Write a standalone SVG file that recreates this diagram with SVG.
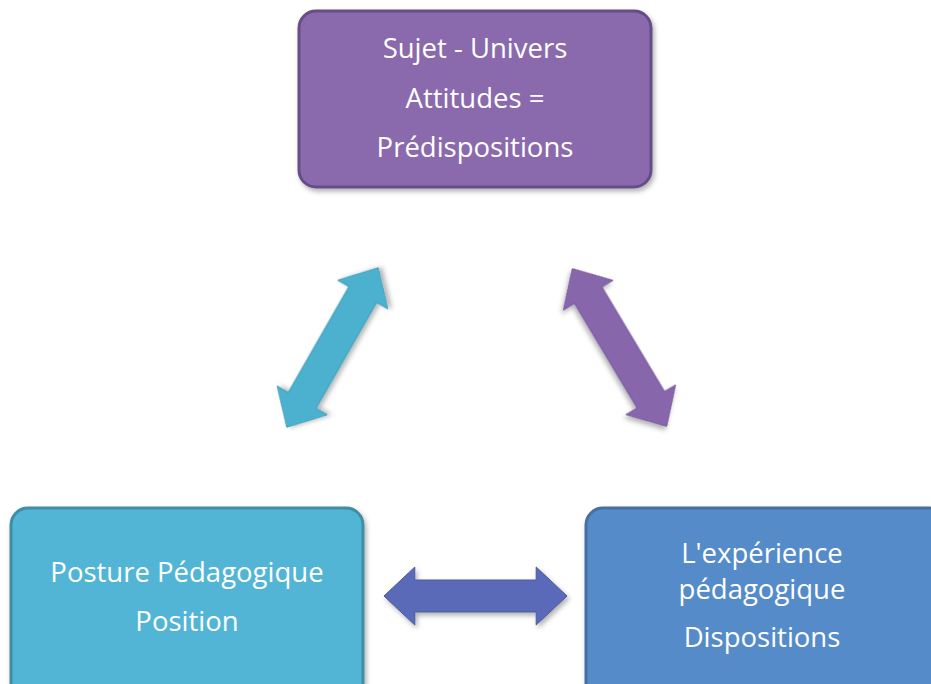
<svg xmlns="http://www.w3.org/2000/svg" width="931" height="684" viewBox="0 0 931 684">
<defs>
<filter id="sh" x="-20%" y="-20%" width="140%" height="140%">
<feDropShadow dx="2" dy="3" stdDeviation="2.5" flood-color="#000" flood-opacity="0.3"/>
</filter>
<polygon id="dbl" points="-92,0 -61,-29 -61,-16 61,-16 61,-29 92,0 61,29 61,16 -61,16 -61,29"/>
</defs>
<style>
.t{font-family:"Open Sans","Liberation Sans",sans-serif;font-size:27.5px;fill:#fff;text-anchor:middle}
</style>
<rect width="931" height="684" fill="#fff"/>
<g id="connectors">
<use href="#dbl" transform="translate(332.5,347.5) rotate(-60.2)" fill="#4bb1ce" stroke="#3f9ab5" stroke-width="1" filter="url(#sh)"/>
<use href="#dbl" transform="translate(619.5,347.5) rotate(59.1)" fill="#8766ab" stroke="#73569a" stroke-width="1" filter="url(#sh)"/>
<use href="#dbl" transform="translate(475.5,596) scale(0.995,1)" fill="#5a6bb8" stroke="#4a5aa0" stroke-width="1" filter="url(#sh)"/>
</g>
<g id="node-top">
<rect x="299" y="11" width="352" height="176" rx="17" fill="#8a6bac" stroke="#664d88" stroke-width="3" filter="url(#sh)"/>
<text class="t" x="475" y="58">Sujet - Univers</text>
<text class="t" x="475" y="108">Attitudes =</text>
<text class="t" x="475" y="157">Prédispositions</text>
</g>
<g id="node-left">
<rect x="11" y="508" width="352" height="200" rx="17" fill="#52b5d5" stroke="#3f8ea5" stroke-width="3" filter="url(#sh)"/>
<text class="t" x="187" y="582">Posture Pédagogique</text>
<text class="t" x="187" y="631">Position</text>
</g>
<g id="node-right">
<rect x="586" y="508" width="360" height="200" rx="17" fill="#568bca" stroke="#44709f" stroke-width="3" filter="url(#sh)"/>
<text class="t" x="762" y="563">L'expérience</text>
<text class="t" x="762" y="599">pédagogique</text>
<text class="t" x="762" y="647">Dispositions</text>
</g>
</svg>
